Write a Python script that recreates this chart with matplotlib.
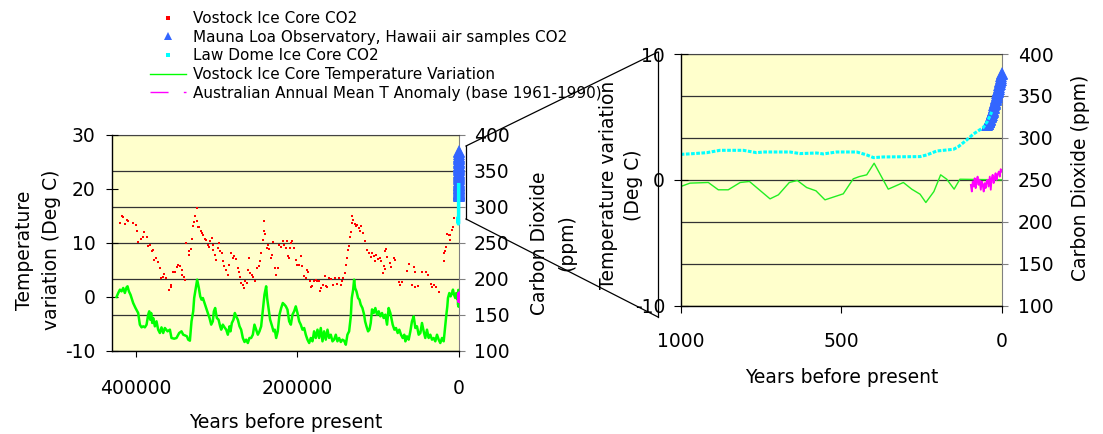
import matplotlib
matplotlib.use('Agg')
import matplotlib.pyplot as plt
from matplotlib.lines import Line2D

plt.rcParams['font.family'] = ['DejaVu Sans']
plt.rcParams['axes.unicode_minus'] = False

# ---------------- data ----------------
# Vostok ice core CO2 (years before present, ppm)
vostok_co2_age = [
    419800, 417800, 415700, 413700, 411600, 409500, 403400, 400100, 398400, 397200,
    394300, 391000, 389700, 386800, 384800, 382700, 380600, 379400, 377700, 374500,
    373200, 370300, 368300, 367000, 365300, 362100, 359100, 357100, 355900, 353800,
    351700, 349700, 347600, 345500, 343500, 342300, 340200, 339400, 338100, 334400,
    334000, 331900, 330300, 329000, 327800, 326200, 324900, 323700, 322800,
    321200, 319100, 317900, 316300, 315000, 312900, 310800, 309600, 307600, 305500,
    304700, 303900, 301400, 300600, 298500, 297200, 295600, 293100, 291500, 290300,
    288200, 286100, 284100, 282000, 279900, 277900, 275800, 273700, 272400, 270800,
    269600, 267500, 265500, 264300, 262500, 261300, 260100, 258100, 256000, 254400,
    251900, 249800, 247700, 245700, 244500, 242700, 241500, 240700, 239500, 237800,
    236500, 234600, 232400, 231200, 229600, 227900, 226300, 224100, 222200, 220100,
    218000, 216000,
    214200, 213000, 211300, 210100, 208900, 207200, 206000, 203900, 201900, 199800,
    197700, 195700, 193600, 191500, 189500, 187400, 186200, 184100, 182500, 181200,
    179100, 177100, 175000, 173000, 171700, 170100, 168000, 165900, 164700, 162600,
    160600, 158500, 155200, 153600, 151100, 148200, 146100, 144100, 142800, 141200,
    139900, 138700, 137000, 135800, 134600, 133700, 132500, 131700, 130400, 128800,
    127500, 125500, 123400, 122200, 120500, 118100, 116400, 113900, 111000, 109000,
    106900, 104800,
    104100, 102400, 100000, 97500, 96800, 94200, 93000, 91700, 90900, 89600,
    88800, 85000, 84400, 80600, 79300, 74400, 72300, 70200, 64100, 62000,
    57900, 54800, 54400, 53700, 50800, 45500, 40500, 38000, 34100, 33700,
    31000, 28100, 24800, 18650, 17800, 16600, 15800, 14500, 12500, 11200,
    10400, 8300, 7100, 6300]
vostok_co2 = [
    277.8, 287.0, 285.6, 276.4, 282.4, 280.1, 277.8, 274.5, 266.2, 250.9,
    256.0, 258.8, 264.8, 258.3, 245.4, 246.8, 238.4, 239.8, 226.8, 229.2,
    223.6, 215.3, 201.4, 203.2, 206.9, 201.4, 185.2, 188.4, 192.1, 209.7,
    209.7, 216.7, 219.9, 217.6, 213.0, 205.1, 202.3, 199.1, 250.0, 233.8,
    239.4, 241.7, 256.0, 273.1, 279.2, 287.0, 298.6, 281.0, 271.8,
    271.8, 266.2, 263.9, 260.6, 256.0, 254.6, 247.7, 244.0, 252.3, 256.9,
    247.7, 240.7, 233.8, 226.8, 243.1, 250.0, 238.4, 236.1, 224.5, 217.6,
    213.0, 206.0, 219.9, 236.1, 229.2, 231.5, 228.2, 215.3, 209.7, 202.3,
    194.4, 191.2, 187.5, 196.8, 194.4, 213.0, 229.2, 208.3, 205.1, 202.3,
    196.8, 215.3, 217.6, 224.5, 236.1, 254.6, 266.2, 280.1, 262.5, 243.1,
    247.7, 242.1, 229.2, 233.8, 251.4, 215.3, 206.0, 215.3, 247.7, 244.0,
    253.2, 247.7,
    243.1, 252.3, 231.5, 229.2, 243.1, 250.0, 252.3, 243.1, 226.8, 219.9,
    219.9, 231.5, 217.6, 203.7, 201.4, 213.0, 209.7, 197.7, 188.4, 189.8,
    197.7, 199.1, 196.8, 197.7, 183.8, 187.5, 192.1, 203.7, 189.8, 188.4,
    201.4, 200.5, 191.2, 201.4, 193.1, 201.4, 191.2, 196.8, 201.4, 208.3,
    219.9, 229.2, 240.7, 245.4, 257.9, 265.3, 277.8, 287.0, 282.4, 276.4,
    273.1, 275.5, 270.8, 266.2, 273.1, 263.9, 252.3, 240.7, 236.1, 230.1,
    236.1, 231.5,
    225.5, 232.9, 228.2, 229.2, 224.5, 208.3, 217.6, 214.3, 238.4, 242.1,
    230.1, 222.2, 216.7, 229.2, 226.8, 195.8, 191.2, 195.8, 211.6, 221.3,
    191.2, 216.2, 209.7, 188.4, 189.8, 209.7, 209.7, 205.1, 193.1, 188.4,
    192.1, 188.4, 181.9, 225.5, 236.1, 238.4, 244.0, 263.0, 260.6, 254.6,
    260.6, 268.5, 271.8, 284.7]

# Mauna Loa Observatory CO2 (years before present, ppm)
mauna_age = [46, 45, 44, 43, 42, 41, 40, 39, 38, 37, 36, 35, 34, 33, 32, 31, 30, 29,
             28, 27, 26, 25, 24, 23, 22, 21, 20, 19, 18, 17, 16, 15, 14, 13, 12, 11,
             10, 9, 8, 7, 6, 5, 4, 3, 2, 1, 0]
mauna_co2 = [315.3, 316.0, 316.9, 317.6, 318.5, 319.0, 319.6, 320.0, 321.4, 322.2,
             323.0, 324.6, 325.7, 326.3, 327.5, 329.7, 330.2, 331.1, 332.0, 333.8,
             335.4, 336.8, 338.7, 340.1, 341.4, 343.0, 344.6, 346.1, 347.4, 349.2,
             351.6, 353.1, 354.4, 355.6, 356.4, 357.1, 358.8, 360.8, 362.6, 363.7,
             366.7, 368.4, 369.5, 371.1, 373.3, 375.8, 377.5]

# Law Dome ice core CO2 (years before present, ppm)
law_age = [1000, 970, 919, 878, 805, 764, 743, 660, 629, 577, 556, 515, 452, 421,
           400, 369, 255, 234, 203, 151, 136, 110, 89, 58, 45, 32]
law_co2 = [280.4, 281.0, 282.4, 285.2, 285.2, 282.4, 283.2, 283.2, 281.3, 282.0,
           280.9, 283.2, 283.2, 279.7, 276.5, 277.3, 277.7, 279.7, 284.4, 286.4,
           289.5, 297.5, 304.6, 312.5, 320.0, 331.0]

# Vostok ice core temperature variation (years before present, deg C)
vostok_t_age = [
    424000, 421900, 419800, 417800, 415700, 413700, 411600, 410400, 408700, 406700,
    403400, 400500, 397200, 395100, 393000, 391000, 388900, 386800, 384800, 383500,
    382300, 381100, 379800, 378600, 376500, 374500, 372400, 370300, 368300, 366200,
    364100, 360800, 357900, 355900, 352600, 349700, 346400, 343500, 341400, 339400,
    336800, 335200, 333100, 331100, 329000, 327800, 325700, 324100,
    322000, 320300, 318700, 317000, 315000, 312900, 310900, 308800, 306700, 304700,
    303400, 301800, 299700, 297600, 295600, 294300, 292300, 290200, 288100, 286100,
    284000, 282800, 281100, 279100, 277400, 275800, 273700, 271600, 269600, 267500,
    265400, 263400, 261300, 259300, 257200, 255100, 253100, 251000, 248900, 246900,
    244800, 242700, 240700, 238600, 237400, 235700, 233700, 231200, 229500, 227900,
    226200, 224200, 222100, 220000, 218000, 215900,
    214200, 212200, 210100, 208000, 206000, 203900, 201900, 199800, 197700, 195700,
    193600, 191500, 189500, 187400, 185300, 183300, 181200, 179200, 177100, 175000,
    173000, 170900, 168800, 166800, 164700, 162600, 160600, 158500, 156400, 154400,
    152300, 150300, 148200, 146100, 144100, 142000, 139900, 137900, 135800, 133700,
    132500, 130800, 129600, 128400, 126700, 124700, 123000, 121400, 119300, 117200,
    116000, 114300, 112300, 110600, 109000,
    107400, 105300, 103300, 101200, 99100, 97100, 95000, 93000, 90900, 88800,
    86800, 84700, 83500, 81800, 79700, 77700, 75600, 73600, 71500, 69400,
    67400, 66100, 64100, 62000, 59900, 57900, 55800, 53700, 51700, 49600,
    47500, 45500, 43400, 41400, 39300, 37200, 35200, 33100, 31000, 29000,
    26900, 24800, 22800, 20700, 18600, 17400, 16600, 15300, 14100, 13300,
    11600, 10000, 8300, 7100, 5800, 4200, 3000, 1700,
    1000, 971, 914, 883, 852, 815, 786, 722, 696, 662, 637, 608, 579, 551, 494,
    463, 444, 421, 398, 354, 307, 281, 255, 237, 212, 191, 172, 149, 131, 0]
vostok_t = [
    0.00, 0.74, 1.36, 1.05, 1.67, 0.74, 1.79, 1.98, 1.05, 0.43,
    -1.11, -2.04, -2.96, -5.12, -5.62, -5.43, -5.62, -5.12, -3.27, -2.65,
    -4.20, -2.96, -4.81, -3.89, -5.43, -4.50, -6.05, -6.67, -5.62, -6.67,
    -5.74, -6.36, -6.05, -7.59, -7.72, -7.59, -6.67, -6.36, -6.98, -7.10,
    -7.28, -7.90, -8.09, -4.50, -2.65, -0.19, 1.67, 3.21,
    1.67, 0.12, -0.49, -0.19, -1.11, -2.04, -2.96, -3.89, -5.12, -4.50,
    -2.65, -2.04, -3.89, -4.20, -5.43, -6.05, -5.12, -5.62, -6.05, -6.98,
    -5.43, -6.36, -4.81, -4.20, -2.96, -3.58, -4.20, -5.43, -6.05, -7.59,
    -8.33, -7.90, -8.52, -7.59, -7.59, -6.98, -5.12, -6.05, -6.98, -6.36,
    -5.43, -2.34, 0.43, 1.98, -0.19, -2.04, -4.20, -5.43, -6.36, -6.05,
    -7.59, -6.36, -3.27, -2.04, -1.11, -1.42,
    -1.73, -2.34, -4.50, -5.12, -3.27, -2.65, -1.73, -2.96, -4.50, -5.12,
    -6.05, -5.74, -6.98, -7.90, -8.52, -7.59, -8.21, -6.36, -7.59, -6.05,
    -7.59, -5.74, -8.21, -6.36, -7.90, -6.05, -7.59, -6.98, -8.21, -7.90,
    -6.98, -8.21, -7.59, -8.33, -7.90, -8.09, -8.83, -6.98, -6.36, -3.58,
    -0.19, 1.36, 3.21, 1.67, 1.05, -0.19, -0.49, -1.42, -2.04, -3.27,
    -4.50, -5.43, -6.36, -6.05, -4.81,
    -2.30, -2.96, -2.04, -3.27, -2.65, -3.58, -2.96, -3.89, -3.27, -5.12,
    -2.04, -2.96, -3.89, -5.12, -6.05, -5.74, -6.67, -6.05, -6.98, -7.59,
    -6.98, -8.21, -7.28, -7.90, -6.36, -4.50, -3.58, -5.74, -5.43, -6.98,
    -6.67, -4.81, -6.36, -7.59, -6.05, -7.59, -6.98, -7.90, -7.59, -8.21,
    -6.98, -7.90, -8.52, -7.59, -8.21, -6.36, -5.12, -3.27, -1.73, -0.19,
    0.74, 0.12, 0.74, 1.36, 0.43, -0.19, 0.74, 0.43,
    -0.53, -0.26, -0.21, -0.79, -0.79, -0.21, -0.13, -1.51, -1.19, -0.21, -0.05,
    -0.61, -0.87, -1.59, -1.11, 0.08, 0.26, 0.40, 1.32, -0.74, -0.21, -0.74,
    -1.14, -1.80, -0.93, 0.40, 0.05, -0.74, 0.05, 0.00]

# Australian annual mean temperature anomaly (years before present, deg C)
aus_age = [97, 94, 91, 88, 85, 82, 79, 76, 73, 70, 66, 63, 60, 57, 54, 51,
           48, 45, 42, 38, 35, 32, 29, 26, 23, 20, 17, 14, 10, 7, 4, 1]
aus_t = [-0.40, -0.93, -0.13, -0.53, 0.13, -0.66, -0.13, 0.26, -0.40, 0.00,
         -0.79, -0.13, -0.40, -0.93, -0.26, -0.66, -0.13, 0.00, -0.53, 0.26,
         -0.79, 0.13, 0.40, -0.26, 0.13, 0.53, 0.00, 0.40, 0.66, 0.26, 0.85, 0.66]

series_labels = ['Vostock Ice Core CO2',
                 'Mauna Loa Observatory, Hawaii air samples CO2',
                 'Law Dome Ice Core CO2',
                 'Vostock Ice Core Temperature Variation',
                 'Australian Annual Mean T Anomaly (base 1961-1990)']

left_xticks = [400000, 200000, 0]
left_xticklabels = ['400000', '200000', '0']
left_tticks = [-10, 0, 10, 20, 30]
right_xticks = [1000, 500, 0]
right_xticklabels = ['1000', '500', '0']
right_tticks = [-10, 0, 10]
co2_ticks = [100, 150, 200, 250, 300, 350, 400]

# ---------------- styling ----------------
W, H = 1103, 434
YELLOW = '#FFFFCC'
RED = '#FF0000'
BLUE = '#3366FF'
CYAN = '#00FFFF'
GREEN = '#00FF00'
MAGENTA = '#FF00FF'
FS = 13.5


def rect(x0, y0, x1, y1):
    return [x0 / W, 1 - y1 / H, (x1 - x0) / W, (y1 - y0) / H]


fig = plt.figure(figsize=(W / 100, H / 100), dpi=100)


def make_axes(box):
    ax = fig.add_axes(rect(*box))
    ax2 = ax.twinx()
    ax.set_zorder(2)
    ax2.set_zorder(1)
    ax.patch.set_visible(False)
    ax2.patch.set_visible(True)
    ax2.patch.set_facecolor(YELLOW)
    ax2.set_axisbelow(True)
    ax2.yaxis.grid(True, color='#333333', lw=0.9)
    for s in ('top', 'right'):
        ax.spines[s].set_visible(False)
    for s in ('left', 'bottom'):
        ax2.spines[s].set_visible(False)
        ax.spines[s].set_color('black')
        ax.spines[s].set_linewidth(1.0)
    ax2.spines['right'].set_color('#808080')
    ax2.spines['top'].set_color('#444444')
    ax2.set_ylim(100, 400)
    ax2.set_yticks(co2_ticks)
    return ax, ax2


# ---------- left chart ----------
axL, axL2 = make_axes((111.7, 135, 458.7, 351))
axL.set_xlim(430000, 0)
axL.set_ylim(-10, 30)
axL.set_yticks(left_tticks)
axL.set_xticks(left_xticks)
axL.set_xticklabels(left_xticklabels)

axL2.plot(vostok_co2_age, vostok_co2, ls='none', marker='s', ms=2.0, mew=0,
          color=RED, zorder=2)
axL2.plot(mauna_age, mauna_co2, ls='none', marker='^', ms=8, mew=0, color=BLUE,
          clip_on=False, zorder=3)
axL2.plot(law_age, law_co2, color=CYAN, lw=2.5, clip_on=False, zorder=4)
axL.plot(vostok_t_age, vostok_t, color=GREEN, lw=1.8, zorder=2)
axL.plot(aus_age, aus_t, color=MAGENTA, lw=1.5, clip_on=False, zorder=3)

axL.tick_params(axis='y', direction='inout', length=8.6, width=0.8, pad=7.2,
                labelsize=FS)
axL.tick_params(axis='x', direction='out', length=4.3, width=0.8, pad=15.8,
                labelsize=FS)
axL2.tick_params(axis='y', direction='out', length=4.3, width=0.8, pad=6.5,
                 labelsize=FS, color='#808080')

axL.set_ylabel('Temperature\nvariation (Deg C)', fontsize=FS, linespacing=1.55,
               va='center', ha='center')
axL.yaxis.set_label_coords(-0.212, 0.468)
axL2.set_ylabel('Carbon Dioxide\n(ppm)', fontsize=FS, linespacing=1.55,
                va='center', ha='center')
axL2.yaxis.set_label_coords(1.272, 0.5)
axL.set_xlabel('Years before present', fontsize=FS, va='center')
axL.xaxis.set_label_coords(0.502, -0.329)

# ---------- right chart ----------
axR, axR2 = make_axes((680.7, 54, 1002, 305.7))
axR.set_xlim(1000, 0)
axR.set_ylim(-10, 10)
axR.set_yticks(right_tticks)
axR.set_xticks(right_xticks)
axR.set_xticklabels(right_xticklabels)

axR2.plot(mauna_age, mauna_co2, ls='none', marker='^', ms=8, mew=0, color=BLUE,
          clip_on=False, zorder=3)
axR2.plot(law_age, law_co2, color=CYAN, lw=2.2, ls=(0, (1.2, 0.5)), zorder=4)
axR.plot(vostok_t_age, vostok_t, color='#22EE22', lw=1.0, zorder=2)
axR.plot(aus_age, aus_t, color=MAGENTA, lw=1.3, zorder=3)

axR.tick_params(axis='y', direction='inout', length=10, width=0.8, pad=6.3,
                labelsize=FS)
axR.tick_params(axis='x', direction='out', length=5, width=0.8, pad=14.2,
                labelsize=FS)
axR2.tick_params(axis='y', direction='out', length=4.3, width=0.8, pad=7.2,
                 labelsize=FS, color='#808080')

axR.set_ylabel('Temperature variation\n(Deg C)', fontsize=FS, linespacing=1.45,
               va='center', ha='center')
axR.yaxis.set_label_coords(-0.186, 0.48)
axR2.set_ylabel('Carbon Dioxide (ppm)', fontsize=FS, va='center', ha='center')
axR2.yaxis.set_label_coords(1.243, 0.507)
axR.set_xlabel('Years before present', fontsize=FS, va='center')
axR.xaxis.set_label_coords(0.5, -0.287)

# ---------- zoom bracket ----------
def fline(xs, ys):
    fig.add_artist(Line2D([x / W for x in xs], [1 - y / H for y in ys],
                          transform=fig.transFigure, color='black', lw=0.9))

fline([466, 658], [146, 52])
fline([466, 658], [219, 317])
fline([466, 466], [146, 219])
fline([658, 658], [52, 317])

# ---------- legend ----------
handles = [
    Line2D([], [], ls='none', marker='s', ms=2.2, mew=0, color=RED),
    Line2D([], [], ls='none', marker='^', ms=5.5, mew=0, color=BLUE),
    Line2D([], [], ls='none', marker='s', ms=2.2, mew=0, color=CYAN),
    Line2D([], [], color=GREEN, lw=1.0),
    Line2D([], [], color=MAGENTA, lw=1.0, dashes=(13, 11, 2, 30)),
]
fig.legend(handles, series_labels, loc='upper left',
           bbox_to_anchor=(150 / W, 1 - 11 / H), frameon=False, fontsize=11,
           handlelength=2.35, handletextpad=0.46, labelspacing=0.24,
           borderpad=0, borderaxespad=0, numpoints=1)

fig.savefig('out.png', dpi=100)
